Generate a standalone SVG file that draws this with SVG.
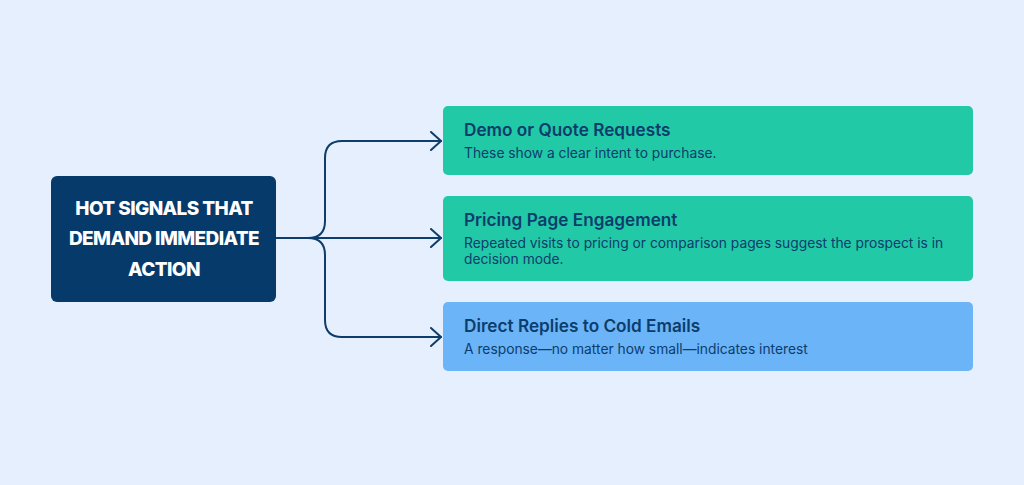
<svg xmlns="http://www.w3.org/2000/svg" width="1024" height="485" viewBox="0 0 1024 485">
<defs>
<style>
.bg{fill:#e6effd}
.main{fill:#053a6b}
.main-t{fill:#ffffff;font-family:Inter,"Liberation Sans",sans-serif;font-weight:800;font-size:19px;letter-spacing:-0.6px;text-anchor:middle}
.card-g{fill:#22c9a7}
.card-b{fill:#6bb4f8}
.title{fill:#0c3d6c;font-family:Inter,"Liberation Sans",sans-serif;font-weight:600;font-size:17.2px}
.sub{fill:#0c3d6c;font-family:Inter,"Liberation Sans",sans-serif;font-weight:400;font-size:13.8px}
.conn{fill:none;stroke:#0d3d6b;stroke-width:2;stroke-linecap:round;stroke-linejoin:round}
</style>
<marker id="arr" viewBox="0 0 12 20" refX="11" refY="10" markerWidth="12" markerHeight="20" markerUnits="userSpaceOnUse" orient="auto">
<path d="M1 1 L11 10 L1 19" fill="none" stroke="#0d3d6b" stroke-width="2" stroke-linecap="round" stroke-linejoin="round"/>
</marker>
</defs>
<rect class="bg" x="0" y="0" width="1024" height="485"/>
<g id="connectors">
<path class="conn" d="M276 238 L441 238" marker-end="url(#arr)"/>
<path class="conn" d="M308 238 Q325 238 325 221 L325 158 Q325 141 342 141 L441 141" marker-end="url(#arr)"/>
<path class="conn" d="M308 238 Q325 238 325 255 L325 320 Q325 337 342 337 L441 337" marker-end="url(#arr)"/>
</g>
<g id="main">
<rect class="main" x="51" y="176" width="225" height="126" rx="6"/>
<text class="main-t" x="164" y="215">HOT SIGNALS THAT</text>
<text class="main-t" x="164" y="245">DEMAND IMMEDIATE</text>
<text class="main-t" x="164" y="276">ACTION</text>
</g>
<g id="demo">
<rect class="card-g" x="443" y="106" width="530" height="69" rx="5"/>
<text class="title" x="464" y="136">Demo or Quote Requests</text>
<text class="sub" x="464" y="158">These show a clear intent to purchase.</text>
</g>
<g id="pricing">
<rect class="card-g" x="443" y="196" width="530" height="85" rx="5"/>
<text class="title" x="464" y="226">Pricing Page Engagement</text>
<text class="sub" x="464" y="248">Repeated visits to pricing or comparison pages suggest the prospect is in</text>
<text class="sub" x="464" y="264">decision mode.</text>
</g>
<g id="replies">
<rect class="card-b" x="443" y="302" width="530" height="69" rx="5"/>
<text class="title" x="464" y="332">Direct Replies to Cold Emails</text>
<text class="sub" x="464" y="354">A response—no matter how small—indicates interest</text>
</g>
</svg>
